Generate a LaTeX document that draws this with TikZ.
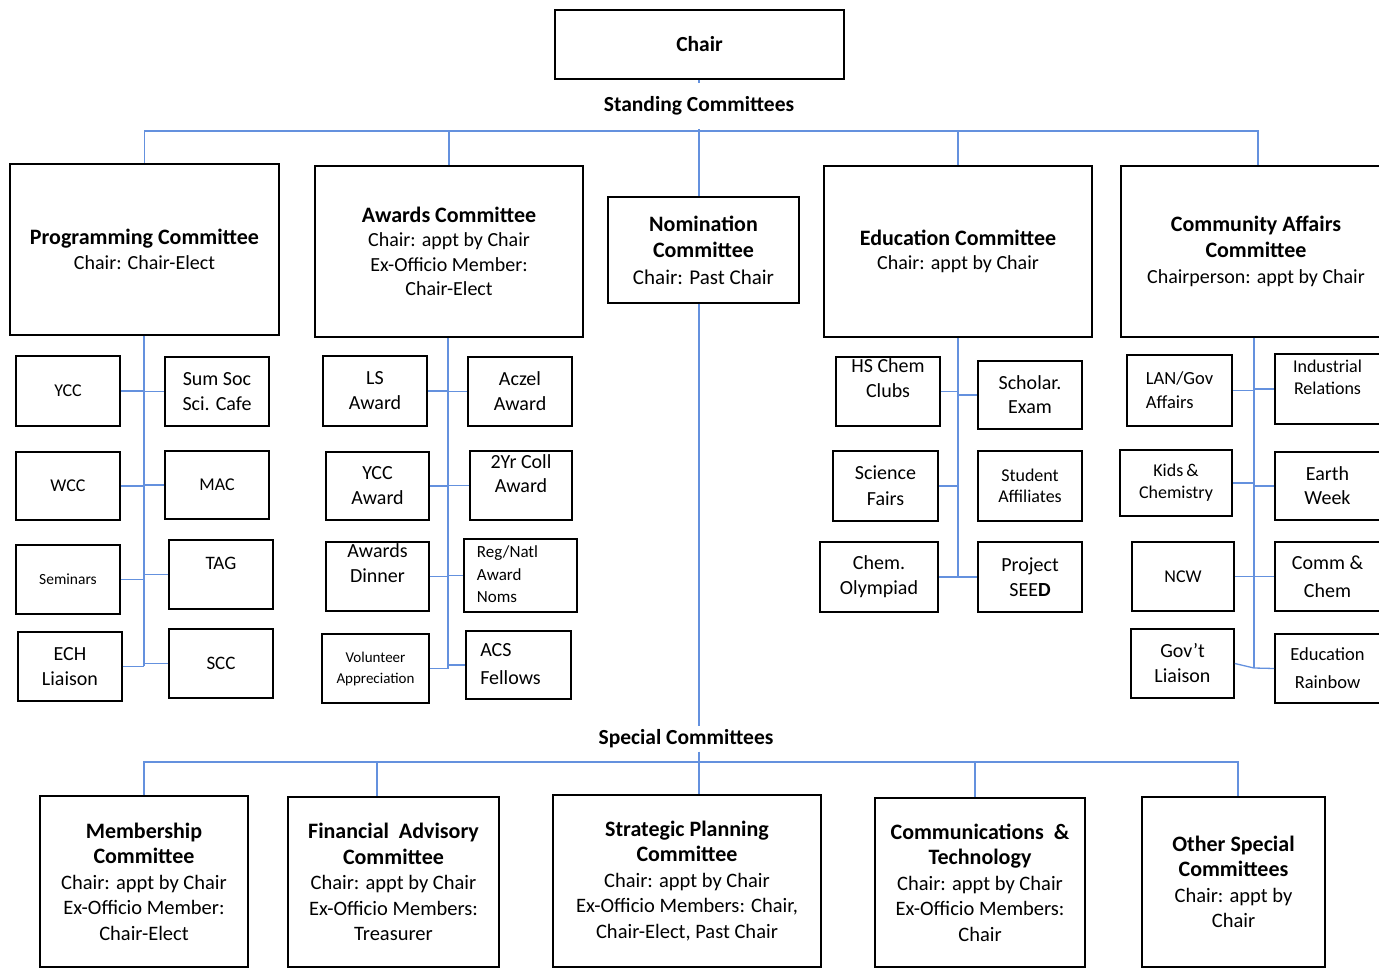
\documentclass[tikz,border=0pt]{standalone}
\usepackage{fontspec}
\setmainfont{Carlito}
\definecolor{linkblue}{RGB}{100,145,222}
\newcommand\tb[1]{{\bfseries\fontsize{22}{26}\selectfont #1}}
\newcommand\up[2]{\raisebox{#1}[\height][\depth]{\begin{tabular}{@{}c@{}}#2\end{tabular}}}
\newcommand\bx[7]{%
  \pgfmathsetmacro\bxcx{(#2+#4)/2}\pgfmathsetmacro\bxcy{(#3+#5)/2}%
  \pgfmathsetmacro\bxw{#4-#2}\pgfmathsetmacro\bxh{#5-#3}%
  \node[box,#6,minimum width=\bxw pt,minimum height=\bxh pt] (#1) at (\bxcx,\bxcy) {#7};}
\tikzset{
  box/.style={draw=black, line width=1.6pt, inner sep=1pt, align=center,
    font=\fontsize{20}{25}\selectfont},
  lbl/.style={inner sep=0pt, font=\bfseries\fontsize{21.5}{26}\selectfont},
  conn/.style={draw=linkblue, line width=1.3pt},
  f15/.style={font=\fontsize{15}{21}\selectfont},
  f16/.style={font=\fontsize{15.5}{21}\selectfont},
  f17/.style={font=\fontsize{17}{22.5}\selectfont},
  f18/.style={font=\fontsize{18}{22}\selectfont},
  f19/.style={font=\fontsize{19}{24}\selectfont},
  f20/.style={font=\fontsize{20}{25}\selectfont},
  f20w/.style={font=\fontsize{20}{28}\selectfont},
  f18w/.style={font=\fontsize{18.5}{28}\selectfont},
  big/.style={font=\fontsize{20.5}{25.5}\selectfont},
}
\begin{document}
\begin{tikzpicture}[x=1pt,y=-1pt]
\useasboundingbox (0,0) rectangle (1379,969);

% top
\bx{chair}{555}{10}{844}{79}{font=\bfseries\fontsize{21.5}{26}\selectfont}{Chair}
\node[lbl, minimum height=46pt] (stdlbl) at (699,106) {Standing Committees};

% standing committees
\bx{prog}{10}{164}{279}{335}{}{\tb{Programming Committee}\\Chair: Chair-Elect}
\bx{awd}{315}{166}{583}{337}{font=\fontsize{20}{24.5}\selectfont}{\tb{Awards Committee}\\Chair: appt by Chair\\Ex-Officio Member:\\Chair-Elect}
\bx{nom}{608}{197}{799}{303}{font=\fontsize{21}{26.5}\selectfont}{\tb{Nomination}\\\tb{Committee}\\Chair: Past Chair}
\bx{edu}{824}{166}{1092}{337}{font=\fontsize{20}{24.5}\selectfont}{\tb{Education Committee}\\Chair: appt by Chair}
\bx{cmty}{1121}{166}{1391}{337}{font=\fontsize{20}{26}\selectfont}{\tb{Community Affairs}\\\tb{Committee}\\Chairperson: appt by Chair}

% programming sub-committees
\bx{ycc}{16}{356}{120}{426}{f18}{YCC}
\bx{sumsoc}{165}{357}{269}{426}{f20}{Sum Soc\\Sci. Cafe}
\bx{wcc}{16}{452}{120}{520}{f18}{WCC}
\bx{mac}{165}{451}{269}{519}{f18}{MAC}
\bx{sem}{16}{545}{120}{614}{f16}{Seminars}
\bx{tag}{169}{540}{273}{609}{f19}{\up{10pt}{TAG}}
\bx{ech}{18}{632}{122}{701}{f20}{ECH\\Liaison}
\bx{scc}{169}{629}{273}{698}{f19}{SCC}

% awards sub-committees
\bx{ls}{323}{356}{427}{426}{f20}{LS\\Award}
\bx{aczel}{468}{357}{572}{426}{f20}{Aczel\\Award}
\bx{yccaw}{326}{452}{429}{520}{f20}{YCC\\Award}
\bx{twoyr}{470}{451}{572}{520}{font=\fontsize{20}{24}\selectfont}{\up{10pt}{2Yr Coll\\Award}}
\bx{dinner}{326}{542}{429}{611}{f20}{\up{12pt}{Awards\\Dinner}}
\bx{regnatl}{464}{539}{577}{612}{f17}{\begin{tabular}{@{}l@{\hspace{26pt}}}Reg/Natl\\Award\\Noms\end{tabular}}
\bx{vol}{322}{634}{429}{703}{f15}{Volunteer\\Appreciation}
\bx{acs}{466}{631}{571}{699}{f20w}{\begin{tabular}{@{}l@{\hspace{16pt}}}ACS\\Fellows\end{tabular}}

% education sub-committees
\bx{hs}{836}{357}{940}{426}{f20}{\up{12pt}{HS Chem\\Clubs}}
\bx{sch}{978}{361}{1082}{429}{font=\fontsize{20}{24}\selectfont}{Scholar.\\Exam}
\bx{sf}{833}{451}{938}{521}{font=\fontsize{20}{26}\selectfont}{Science\\Fairs}
\bx{stu}{978}{451}{1082}{521}{font=\fontsize{18}{21}\selectfont}{Student\\Affiliates}
\bx{olym}{820}{542}{938}{612}{f20}{Chem.\\Olympiad}
\bx{seed}{978}{542}{1082}{612}{f20}{Project\\SEE\textbf{D}}

% community affairs sub-committees
\bx{lan}{1127}{355}{1232}{426}{font=\fontsize{18.5}{24}\selectfont, align=left}{LAN/Gov\\Affairs}
\bx{ind}{1275}{354}{1380}{424}{f18}{\up{10pt}{Industrial\\Relations}}
\bx{kids}{1120}{450}{1232}{516}{f18}{Kids\,\&\\Chemistry}
\bx{earth}{1275}{452}{1380}{520}{font=\fontsize{20}{24}\selectfont}{Earth\\Week}
\bx{ncw}{1132}{542}{1234}{611}{f18}{NCW}
\bx{commchem}{1275}{542}{1380}{611}{f20w}{Comm \&\\Chem}
\bx{govt}{1131}{629}{1234}{698}{f20}{Gov’t\\Liaison}
\bx{edrb}{1275}{634}{1380}{703}{f18w}{Education\\Rainbow}

% special committees
\node[lbl, minimum height=25pt] (spclbl) at (686,739) {Special Committees};
\bx{memb}{40}{796}{248}{967}{big}{\tb{Membership}\\\tb{Committee}\\Chair: appt by Chair\\Ex-Officio Member:\\Chair-Elect}
\bx{fin}{288}{797}{499}{967}{big}{\tb{Financial\ \ Advisory}\\\tb{Committee}\\Chair: appt by Chair\\Ex-Officio Members:\\Treasurer}
\bx{strat}{553}{795}{821}{967}{big}{\tb{Strategic Planning}\\\tb{Committee}\\Chair: appt by Chair\\Ex-Officio Members: Chair,\\Chair-Elect, Past Chair}
\bx{commt}{875}{798}{1085}{967}{big}{\tb{Communications\ \ \&}\\\tb{Technology}\\Chair: appt by Chair\\Ex-Officio Members:\\Chair}
\bx{other}{1142}{797}{1325}{967}{big}{\tb{Other Special}\\\tb{Committees}\\Chair: appt by\\Chair}

% ---- connectors: standing committees
\coordinate (midx) at (699,0);
\coordinate (stdbar) at (699,131);
\coordinate (cmx) at (1258,131);
\draw[conn] (chair.south -| midx) -- (stdlbl.north -| midx);
\draw[conn] (stdlbl.south -| midx) -- (nom.north -| midx);
\draw[conn] (prog.north) |- (cmx) -- (cmx |- cmty.north);
\draw[conn] (awd.north) -- (awd.north |- stdbar);
\draw[conn] (edu.north) -- (edu.north |- stdbar);

% programming trunk
\coordinate (pt) at (144,666);
\draw[conn] (prog.south -| pt) -- (pt);
\foreach \l/\r in {ycc/sumsoc, wcc/mac, sem/tag, ech/scc}{
  \draw[conn] (\l.east) -- (\l.east -| pt);
  \draw[conn] (\r.west) -- (\r.west -| pt);
}

% awards trunk
\coordinate (at) at (448,669);
\draw[conn] (awd.south -| at) -- (at);
\foreach \l/\r in {ls/aczel, yccaw/twoyr, dinner/regnatl, vol/acs}{
  \draw[conn] (\l.east) -- (\l.east -| at);
  \draw[conn] (\r.west) -- (\r.west -| at);
}

% education trunk
\coordinate (et) at (958,578);
\draw[conn] (edu.south -| et) -- (et);
\foreach \l/\r in {hs/sch, olym/seed}{
  \draw[conn] (\l.east) -- (\l.east -| et);
  \draw[conn] (\r.west) -- (\r.west -| et);
}
\draw[conn] (sf.east) -- (sf.east -| et);

% community affairs trunk
\coordinate (ct) at (1254,668);
\draw[conn] (cmty.south -| ct) -- (ct);
\foreach \l/\r in {lan/ind, kids/earth, ncw/commchem}{
  \draw[conn] (\l.east) -- (\l.east -| ct);
  \draw[conn] (\r.west) -- (\r.west -| ct);
}
\draw[conn] (govt.east) -- (ct) -- (edrb.west);

% ---- connectors: special committees
\coordinate (spbar) at (699,762);
\coordinate (finx) at (377,762);
\coordinate (comx) at (975,762);
\coordinate (othx) at (1238,762);
\draw[conn] (nom.south -| midx) -- (spclbl.north -| midx);
\draw[conn] (spclbl.south -| midx) -- (spbar |- strat.north);
\draw[conn] (memb.north) |- (othx) -- (othx |- other.north);
\draw[conn] (finx) -- (finx |- fin.north);
\draw[conn] (comx) -- (comx |- commt.north);
\end{tikzpicture}
\end{document}
